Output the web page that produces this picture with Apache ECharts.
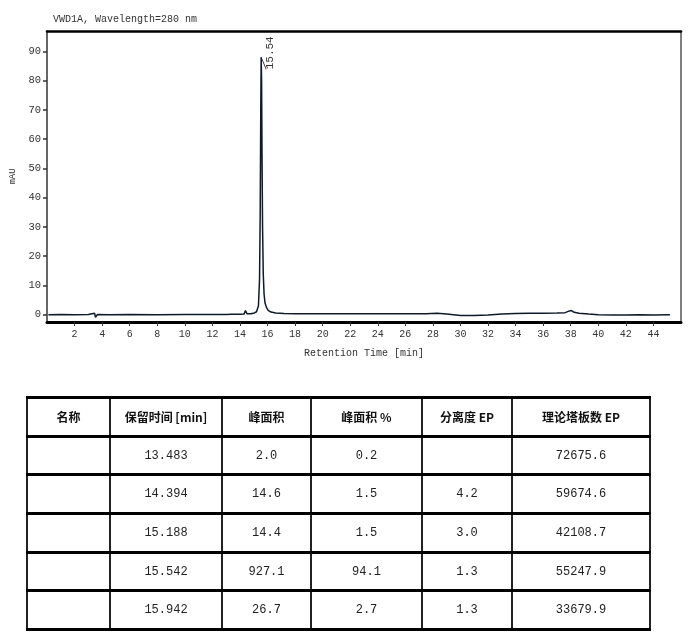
<!DOCTYPE html>
<html>
<head>
<meta charset="utf-8">
<script src="https://cdn.jsdelivr.net/npm/echarts@6/dist/echarts.min.js"></script>
<style>
  html, body { margin: 0; padding: 0; background: #fff; }
  #main { position: absolute; left: 0; top: 0; width: 691px; height: 634px; }
  #tbl { position: absolute; left: 26px; top: 396px; border-collapse: collapse; table-layout: fixed; }
  #tbl td, #tbl th {
    border-left: 2px solid #222; border-right: 2px solid #222;
    border-top: 3px solid #000; border-bottom: 3px solid #000;
    text-align: center; padding: 0; height: 35.7px;
    font-family: 'Liberation Mono', monospace; font-size: 12px; color: #222;
  }
  #tbl th { font-family: 'Noto Sans CJK SC', sans-serif; font-weight: bold; font-size: 12px; color: #111; }
</style>
</head>
<body>
<div id="main"></div>
<table id="tbl"></table>
<script>
// 色谱图数据（保留时间 min / 响应 mAU）
var rt = [0.1, 1.0, 2.0, 3.0, 3.45, 3.52, 3.58, 3.66, 4.5, 6, 8, 10, 12, 13.0, 13.4, 13.48, 13.56, 14.0,
  14.3, 14.36, 14.40, 14.45, 14.52, 14.8, 15.05, 15.15, 15.2, 15.26, 15.34, 15.42, 15.47, 15.51, 15.54,
  15.57, 15.60, 15.64, 15.69, 15.75, 15.82, 15.92, 16.05, 16.25, 16.6, 17.2, 18, 20, 22, 24, 26, 27.5,
  28.3, 29, 30, 31, 32, 33, 34, 35, 36, 37, 37.6, 37.9, 38.05, 38.25, 38.6, 39.3, 40, 41, 42, 43, 44, 45.2];
var mau = [0, 0.05, 0, 0.05, 0.5, -0.9, -0.7, 0.1, 0, 0.05, 0, 0.05, 0.05, 0.1, 0.15, 0.3, 0.15, 0.15,
  0.2, 0.8, 1.4, 0.9, 0.3, 0.3, 0.6, 1.2, 1.0, 1.3, 3, 12, 35, 70, 88,
  80, 55, 30, 14, 7, 4, 2.5, 1.5, 0.9, 0.6, 0.4, 0.35, 0.3, 0.3, 0.35, 0.3, 0.35,
  0.5, 0.2, -0.3, -0.3, -0.1, 0.2, 0.4, 0.5, 0.5, 0.6, 0.7, 1.3, 1.4, 0.8, 0.5, 0.2, 0, -0.1, -0.1, -0.05, -0.1, -0.05];
var xTicks = [2, 4, 6, 8, 10, 12, 14, 16, 18, 20, 22, 24, 26, 28, 30, 32, 34, 36, 38, 40, 42, 44];
var yTicks = [0, 10, 20, 30, 40, 50, 60, 70, 80, 90];
var peakLabel = '15.54';

// 峰表
var tblHead = ['名称', '保留时间 [min]', '峰面积', '峰面积 %', '分离度 EP', '理论塔板数 EP'];
var tblRt = ['13.483', '14.394', '15.188', '15.542', '15.942'];
var tblArea = ['2.0', '14.6', '14.4', '927.1', '26.7'];
var tblPct = ['0.2', '1.5', '1.5', '94.1', '2.7'];
var tblRes = ['', '4.2', '3.0', '1.3', '1.3'];
var tblPlates = ['72675.6', '59674.6', '42108.7', '55247.9', '33679.9'];
var colW = [83, 112, 89, 111, 90, 138];

var chart = echarts.init(document.getElementById('main'));
var pts = rt.map(function (t, i) { return [t, mau[i]]; });
var apex = mau.indexOf(Math.max.apply(null, mau));

var fnt = 'Liberation Mono';
var option = {
  backgroundColor: '#fff',
  animation: false,
  title: {
    text: 'VWD1A, Wavelength=280 nm',
    left: 48, top: 9,
    textStyle: { fontFamily: fnt, fontSize: 10, fontWeight: 'normal', color: '#333' }
  },
  grid: { left: 46, right: 10, top: 31, bottom: 312, containLabel: false },
  xAxis: [{
    type: 'value', min: 0, max: 46, position: 'bottom',
    name: 'Retention Time [min]', nameLocation: 'middle', nameGap: 26,
    nameTextStyle: { fontFamily: fnt, fontSize: 10, color: '#333' },
    axisLine: { show: true, onZero: false, lineStyle: { color: '#000', width: 3 } },
    axisTick: { show: true, customValues: xTicks, length: 4, lineStyle: { color: '#333' } },
    axisLabel: { customValues: xTicks, margin: 7, fontFamily: fnt, fontSize: 10, color: '#333' },
    splitLine: { show: false }
  }, {
    type: 'value', min: 0, max: 46, position: 'top',
    axisLine: { show: true, onZero: false, lineStyle: { color: '#000', width: 2.5 } },
    axisTick: { show: false }, axisLabel: { show: false }, splitLine: { show: false }
  }],
  yAxis: [{
    type: 'value', min: -2.5, max: 97, position: 'left',
    name: 'mAU', nameLocation: 'middle', nameGap: 30, nameRotate: 90,
    nameTextStyle: { fontFamily: fnt, fontSize: 9, color: '#333' },
    axisLine: { show: true, onZero: false, lineStyle: { color: '#333', width: 1.5 } },
    axisTick: { show: true, customValues: yTicks, length: 4, lineStyle: { color: '#333', width: 1.5 } },
    axisLabel: { customValues: yTicks, margin: 6, fontFamily: fnt, fontSize: 10.5, color: '#333' },
    splitLine: { show: false }
  }, {
    type: 'value', min: -2.5, max: 97, position: 'right',
    axisLine: { show: true, onZero: false, lineStyle: { color: '#555', width: 1.5 } },
    axisTick: { show: false }, axisLabel: { show: false }, splitLine: { show: false }
  }],
  series: [{
    type: 'line',
    data: pts,
    showSymbol: false,
    lineStyle: { color: '#0d1a2a', width: 1.5 },
    markPoint: {
      symbol: 'path://M0,0L5,12',
      symbolSize: [5, 12],
      symbolOffset: [2.5, 6],
      itemStyle: { color: 'none', borderColor: '#222', borderWidth: 1 },
      label: {
        show: true, formatter: peakLabel, position: 'inside', rotate: 90,
        align: 'left', verticalAlign: 'middle', offset: [-6, 6.5],
        fontFamily: fnt, fontSize: 11, color: '#333'
      },
      data: [{ coord: pts[apex] }]
    }
  }]
};
chart.setOption(option);

// 表格
var tbl = document.getElementById('tbl');
var html = '<colgroup>' + colW.map(function (w) { return '<col style="width:' + w + 'px">'; }).join('') + '</colgroup>';
html += '<tr>' + tblHead.map(function (h) { return '<th>' + h + '</th>'; }).join('') + '</tr>';
tblRt.forEach(function (r, i) {
  html += '<tr><td></td><td>' + r + '</td><td>' + tblArea[i] + '</td><td>' + tblPct[i] +
    '</td><td>' + tblRes[i] + '</td><td>' + tblPlates[i] + '</td></tr>';
});
tbl.innerHTML = html;
tbl.style.width = colW.reduce(function (a, b) { return a + b; }, 0) + 'px';

window.onresize = function () {
  chart.resize();
};
</script>
</body>
</html>
